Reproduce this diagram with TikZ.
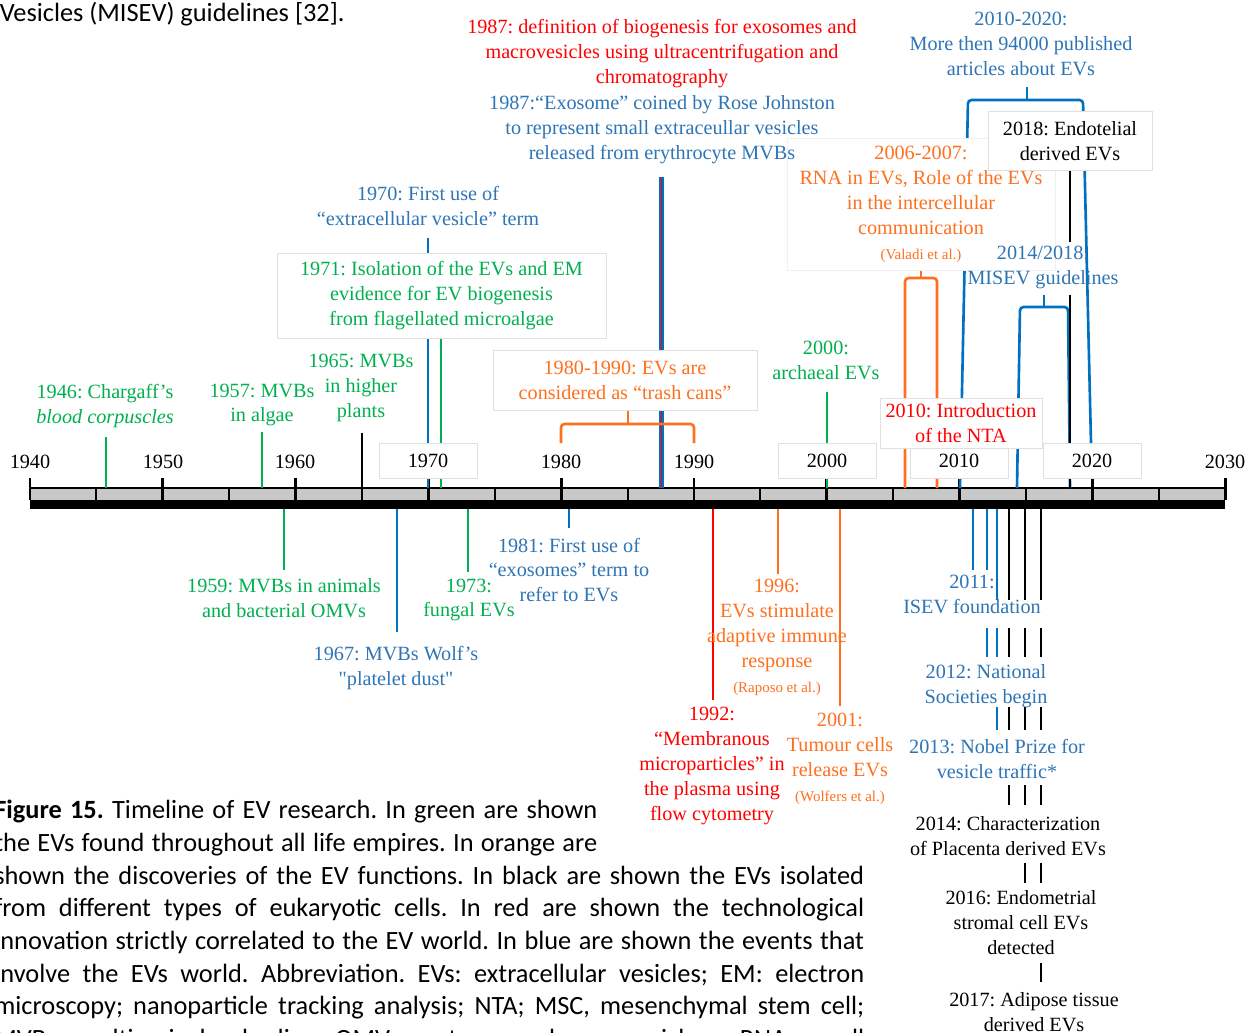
\documentclass[tikz,border=0pt]{standalone}
\usepackage{fontspec}
\setmainfont{Liberation Serif}
\newfontfamily\capfont{Carlito}
\usepackage{xcolor}
\usepackage{tikz}
\usetikzlibrary{positioning}
\definecolor{evgreen}{RGB}{0,176,80}
\definecolor{evblue}{RGB}{46,117,182}
\definecolor{evlineblue}{RGB}{0,112,192}
\definecolor{evorange}{RGB}{255,112,30}
\definecolor{evred}{RGB}{255,0,0}
\definecolor{axisgray}{RGB}{200,200,200}
\newcommand{\lblfont}{\fontsize{11.5}{14.2}\selectfont}
\newcommand{\refnote}[1]{{\fontsize{8.5}{10}\selectfont #1}}
\frenchspacing

\begin{document}
\begin{tikzpicture}[
        x=0.02cm, y=-0.02cm,
        event/.style={align=center, inner sep=0pt, font=\lblfont},
        evline/.style={line width=1.5pt},
        bracket/.style={evline, rounded corners=2pt},
        labelbox/.style={event, draw=black!12, fill=white, line width=0.4pt},
        yearbox/.style={labelbox, minimum width=1.96cm, minimum height=0.7cm},
        caption/.style={align=left, inner sep=0pt, font=\capfont\fontsize{15}{18.5}\selectfont}
    ]
        \path[use as bounding box, fill=white] (0,0) rectangle (1255,1032);

        % Axis
        \fill[axisgray] (30,488) rectangle (1225,500);
        \draw[line width=0.6pt] (30,488) -- (1225,488);
        \fill[black] (30,500) rectangle (1225,509);
        \foreach \i in {0,...,9} \draw[line width=1.6pt] (30+132.8*\i,478) -- (30+132.8*\i,500);
        \foreach \i in {0,...,8} \draw[line width=1.2pt] (96.4+132.8*\i,488) -- (96.4+132.8*\i,500);

        % Lines above the axis
        \foreach \x/\ya/\c in {106/437/evgreen, 262/432/evgreen, 362/433/black, 428/238/evlineblue,
                441/338/evgreen, 827/392/evgreen, 960/448/evred}
            \draw[evline, \c] (\x,\ya) -- (\x,488);
        \draw[line width=3.2pt, evlineblue] (661.5,177) -- (661.5,488);
        \draw[line width=1pt, evred] (661.5,177) -- (661.5,488);
        \draw[bracket, evorange] (561,443) -- (561,424) -- (694,424) -- (694,443);
        \draw[evline, evorange] (628,410) -- (628,424);
        \draw[bracket, evorange] (905,488) -- (905,278) -- (937,278) -- (937,488);
        \draw[evline, evorange] (921,263) -- (921,278);
        \draw[bracket, evlineblue] (960,488) -- (968,100) -- (1083,100) -- (1091,443);
        \draw[evline, evlineblue] (1027,87) -- (1027,100);
        \draw[bracket, evlineblue] (1017,488) -- (1020,307) -- (1068,307) -- (1070,488);
        \draw[evline, evlineblue] (1044,295) -- (1044,307);
        \draw[evline] (1070,171) -- (1070,242);
        \draw[evline] (1070,295) -- (1070,488);

        % Lines below the axis
        \foreach \x/\yb/\c in {284/570/evgreen, 397/632/evlineblue, 468/572/evgreen, 569/528/evlineblue,
                713/700/evred, 778/574/evorange, 840/706/evorange}
            \draw[evline, \c] (\x,509) -- (\x,\yb);
        \foreach \x/\ya/\yb/\c in {973/509/570/evlineblue, 987/509/570/evlineblue, 997/509/600/evlineblue,
                1009/509/600/black, 1025/509/600/black, 1041/509/600/black,
                987/628/657/evlineblue, 997/628/657/evlineblue, 1009/628/657/black, 1025/628/657/black, 1041/628/657/black,
                997/707/730/evlineblue, 1009/707/730/black, 1025/707/730/black, 1041/707/730/black,
                1009/785/805/black, 1025/785/805/black, 1041/785/805/black,
                1025/863/883/black, 1041/863/883/black,
                1041/963/982/black}
            \draw[evline, \c] (\x,\ya) -- (\x,\yb);

        % Years
        \foreach \yr/\x in {1940/30, 1950/163, 1960/295, 1980/561, 1990/694, 2030/1225}
            \node[event] (y\yr) at (\x,462) {\yr};
        \node[yearbox] (y1970) at (428,461) {1970};
        \node[yearbox] (y2000) at (827,461) {2000};
        \node[yearbox] (y2010) at (959,461) {2010};
        \node[yearbox] (y2020) at (1092,461) {2020};

        % Events above
        \node[labelbox, draw=black!6, text=evorange, minimum width=5.36cm, minimum height=2.64cm] (e2006) at (921,204)
            {2006-2007:\\RNA in EVs, Role of the EVs\\in the intercellular\\communication\\\refnote{(Valadi et al.)}};
        \node[event, evgreen] (e1946) at (105,406) {1946: Chargaff's\\\textit{blood corpuscles}};
        \node[event, evgreen] (e1957) at (262,405) {1957: MVBs\\in algae};
        \node[event, evgreen] (e1965) at (361,388) {1965: MVBs\\in higher\\plants};
        \node[event, evblue] (e1970) at (428,206) {1970: First use of\\“extracellular vesicle” term};
        \node[labelbox, text=evgreen, minimum width=6.58cm, minimum height=1.7cm] (e1971) at (441.5,295.5)
            {1971: Isolation of the EVs and EM\\evidence for EV biogenesis\\from flagellated microalgae};
        \node[labelbox, text=evorange, minimum width=5.28cm, minimum height=1.2cm] (e1980) at (625,380)
            {1980-1990: EVs are\\considered as “trash cans”};
        \node[event, evred] (e1987a) at (662,54)
            {1987: definition of biogenesis for exosomes and\\macrovesicles using ultracentrifugation and\\chromatography};
        \node[event, evblue] (e1987b) at (662,130)
            {1987:“Exosome” coined by Rose Johnston\\to represent small extraceullar vesicles\\released from erythrocyte MVBs};
        \node[event, evgreen] (e2000) at (826,360) {2000:\\archaeal EVs};
        \node[event, evblue] (e2010) at (1021,44) {2010-2020:\\More then 94000 published\\articles about EVs};
        \node[labelbox, minimum width=3.28cm, minimum height=1.18cm] (e2018) at (1070,141) {2018: Endotelial\\derived EVs};
        \node[event, evblue] (e2014m) at (1043,267) {2014/2018:\\MISEV guidelines};
        \node[labelbox, text=evred, minimum width=3.24cm, minimum height=1cm] (e2010n) at (961,423) {2010: Introduction\\of the NTA};

        % Events below
        \node[event, evgreen] (e1959) at (284,598) {1959: MVBs in animals\\and bacterial OMVs};
        \node[event, evblue] (e1967) at (396,668) {1967: MVBs Wolf's\\\textquotedbl platelet dust\textquotedbl};
        \node[event, evgreen] (e1973) at (469,600) {1973:\\fungal EVs};
        \node[event, evblue] (e1981) at (569,570) {1981: First use of\\“exosomes” term to\\refer to EVs};
        \node[event, evred] (e1992) at (712,766)
            {1992:\\“Membranous\\microparticles” in\\the plasma using\\flow cytometry};
        \node[event, evorange] (e1996) at (777,637)
            {1996:\\EVs stimulate\\adaptive immune\\response\\\refnote{(Raposo et al.)}};
        \node[event, evorange] (e2001) at (840,759) {2001:\\Tumour cells\\release EVs\\\refnote{(Wolfers et al.)}};
        \node[event, evblue] (e2011) at (972,594) {2011:\\ISEV foundation};
        \node[event, evblue] (e2012) at (986,686) {2012: National\\Societies begin};
        \node[event, evblue] (e2013) at (997,759) {2013: Nobel Prize for\\vesicle traffic*};
        \node[event] (e2014) at (1008,836) {2014: Characterization\\of Placenta derived EVs};
        \node[event] (e2016) at (1021,923) {2016: Endometrial\\stromal cell EVs\\detected};
        \node[event] (e2017) at (1034,1012) {2017: Adipose tissue\\derived EVs};

        % Surrounding text
        \node[caption, anchor=base east] (prevtext) at (345,21) {Vesicles (MISEV) guidelines [32].};
        \node[caption, anchor=base west] (capa) at (-6,851)
            {\makebox[12.06cm][s]{\textbf{Figure 15.} Timeline of EV research. In green are shown}\\
             \makebox[12.06cm][s]{the EVs found throughout all life empires. In orange are}};
        \node[caption, anchor=base west] (capb) at (-6,1047)
            {\makebox[17.4cm][s]{shown the discoveries of the EV functions. In black are shown the EVs isolated}\\
             \makebox[17.4cm][s]{from different types of eukaryotic cells. In red are shown the technological}\\
             \makebox[17.4cm][s]{innovation strictly correlated to the EV world. In blue are shown the events that}\\
             \makebox[17.4cm][s]{involve the EVs world. Abbreviation. EVs: extracellular vesicles; EM: electron}\\
             \makebox[17.4cm][s]{microscopy; nanoparticle tracking analysis; NTA; MSC, mesenchymal stem cell;}\\
             \makebox[17.4cm][s]{MVBs, multivesicular bodies; OMVs, outer membrane vesicles; sRNA, small}};
    \end{tikzpicture}
\end{document}
